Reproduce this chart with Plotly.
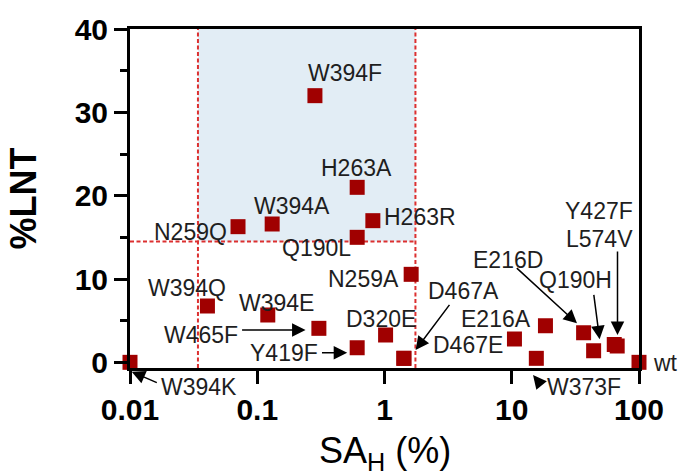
import numpy as np
import plotly.graph_objects as go

# ---------------- data ----------------
mutants = ["W394K", "W394Q", "N259Q", "W394E", "W394A", "W394F", "W465F", "Y419F",
           "Q190L", "H263A", "H263R", "D320E", "D467A", "D467E", "N259A", "E216A",
           "", "W373F", "E216D", "Q190H", "Y427F", "L574V", "wt"]
sa_h = [0.01, 0.0406, 0.0706, 0.121, 0.131, 0.284, 0.305, 0.61,
        0.61, 0.61, 0.81, 1.02, 1.42, 1.42, 1.62, 10.5,
        18.4, 15.6, 36.7, 44.0, 63.9, 67.4, 100.0]
lnt = [0.0, 6.76, 16.28, 5.68, 16.6, 32.0, 4.08, 1.75,
       15.0, 21.0, 17.0, 3.28, 0.48, 0.48, 10.56, 2.8,
       4.39, 0.48, 3.55, 1.39, 2.14, 1.96, 0.0]

sa_low, sa_high, lnt_cut = 0.0342, 1.75, 14.5
x_ticks = [0.01, 0.1, 1, 10, 100]
x_ticktext = ["0.01", "0.1", "1", "10", "100"]
y_ticks = [0, 10, 20, 30, 40]
x_title = "SA<sub>H</sub> (%)"
y_title = "%LNT"

# ---------------- label placement (pixel offsets from point, dy down) ----------------
label_offsets = {
    "W394F": (30.5, -23), "H263A": (-0.7, -19.7), "H263R": (47.2, -3.5),
    "Q190L": (-40.7, 10.7), "W394A": (19.6, -18.2), "N259Q": (-48, 5.8),
    "N259A": (-47.4, 4.7), "W394Q": (-20, -18), "W394E": (8.5, -12.5),
    "W465F": (-118.3, 6.7), "Y419F": (-72.7, 5.6), "D320E": (-5, -16),
    "D467A": (59.2, -67.6), "D467E": (64.2, -13.3), "E216A": (-18.5, -20),
    "E216D": (-75.8, -73.2), "Q190H": (-18.3, -71.2), "Y427F": (-15.7, -133.7),
    "L574V": (-18.2, -107), "W373F": (47.3, 28.2), "W394K": (69, 24.2),
    "wt": (26, 0.2),
}
# arrows: (head dx, head dy) from point, (tail dx, tail dy) from head
arrow_specs = {
    "W465F": (-13.3, 1.7, -65, 0),
    "Y419F": (-10, 5, -26.7, 0),
    "W394K": (1.7, 9.4, 26.6, 11.6),
    "W373F": (-3.3, 16.7, 9, 11),
    "D467A": (11.7, -8.3, 35, -46.7),
    "E216D": (-6.6, -9.4, -61.7, -56.6),
    "Q190H": (6, -11.4, -6, -46),
    "L574V": (0.3, -11, 0, -85),
}

red_line = "#dc3030"
dash = "4px,2.5px"
font_family = "Liberation Sans, Arial, sans-serif"

fig = go.Figure()

# shaded region
fig.add_trace(go.Scatter(
    x=[sa_low, sa_high, sa_high, sa_low, sa_low],
    y=[lnt_cut, lnt_cut, 40, 40, lnt_cut],
    mode="lines", fill="toself", fillcolor="#e2edf5",
    line=dict(width=0), hoverinfo="skip", showlegend=False))

# dashed threshold lines
for xv in (sa_low, sa_high):
    fig.add_trace(go.Scatter(x=[xv, xv], y=[-0.68, 40], mode="lines",
                             line=dict(color=red_line, width=2, dash=dash),
                             hoverinfo="skip", showlegend=False))
fig.add_trace(go.Scatter(x=[0.01, sa_high], y=[lnt_cut, lnt_cut], mode="lines",
                         line=dict(color=red_line, width=2, dash=dash),
                         hoverinfo="skip", showlegend=False))

# data points
fig.add_trace(go.Scatter(
    x=sa_h, y=lnt, mode="markers", text=mutants,
    marker=dict(symbol="square", size=15, color="#a00000", line=dict(width=0)),
    cliponaxis=False, showlegend=False))

annotations = []
for name, xv, yv in zip(mutants, sa_h, lnt):
    if name in label_offsets:
        dx, dy = label_offsets[name]
        annotations.append(dict(
            x=np.log10(xv), y=yv, xref="x", yref="y", text=name, showarrow=False,
            xanchor="center", yanchor="middle", xshift=dx, yshift=-dy,
            font=dict(family=font_family, size=23, color="#1e1e1e")))
    if name in arrow_specs:
        hx, hy, tx, ty = arrow_specs[name]
        annotations.append(dict(
            x=np.log10(xv), y=yv, xref="x", yref="y", text="", showarrow=True,
            xshift=hx, yshift=-hy, ax=tx, ay=ty,
            arrowhead=2, arrowsize=1.8, arrowwidth=1.5, arrowcolor="#000000"))

# x-axis title as annotation (placed below the tick labels)
annotations.append(dict(
    x=0.5, y=-0.252, xref="paper", yref="paper", text=x_title, showarrow=False,
    xanchor="center", yanchor="middle",
    font=dict(family=font_family, size=36, color="black")))

fig.update_layout(
    width=681, height=475,
    margin=dict(l=130, r=42, t=29, b=107),
    paper_bgcolor="white", plot_bgcolor="white",
    annotations=annotations,
    xaxis=dict(
        type="log", range=[-2, 2], tickvals=x_ticks, ticktext=x_ticktext,
        automargin=False,
        showgrid=False, zeroline=False,
        showline=True, linecolor="black", linewidth=3, mirror=True,
        ticks="outside", ticklen=13, tickwidth=3, tickcolor="black",
        tickfont=dict(family=font_family, size=30, color="black", weight="bold")),
    yaxis=dict(
        range=[-0.68, 40], tickvals=y_ticks,
        automargin=False,
        showgrid=False, zeroline=False,
        showline=True, linecolor="black", linewidth=3, mirror=True,
        ticks="outside", ticklen=13, tickwidth=3, tickcolor="black",
        minor=dict(tickvals=[5, 15, 25, 35], ticks="outside", ticklen=7,
                   tickwidth=3, tickcolor="black"),
        tickfont=dict(family=font_family, size=30, color="black", weight="bold"),
        title=dict(text=y_title, standoff=28,
                   font=dict(family=font_family, size=36, color="black", weight="bold"))),
)

fig.write_html("out.html")
